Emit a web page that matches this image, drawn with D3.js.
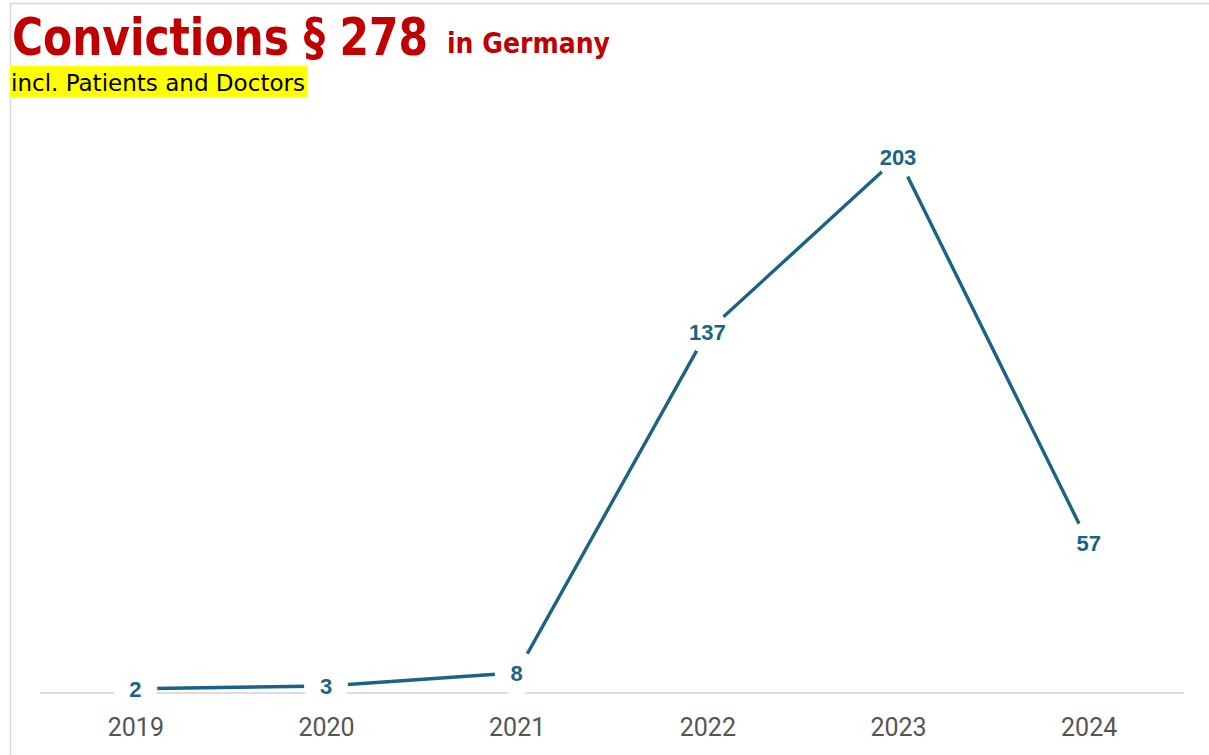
<!DOCTYPE html>
<html>
<head>
<meta charset="utf-8">
<script src="https://cdn.jsdelivr.net/npm/d3@7"></script>
<style>
  body { margin: 0; background: #fff; }
</style>
</head>
<body>
<script>
var years = ["2019", "2020", "2021", "2022", "2023", "2024"];
var convictions = [2, 3, 8, 137, 203, 57];

var width = 1209, height = 755;
var lineColor = "#1a6385";

var svg = d3.select("body").append("svg")
    .attr("width", width)
    .attr("height", height);

// frame
svg.append("path")
    .attr("d", "M10.5," + height + " V3.5 H" + width)
    .attr("fill", "none")
    .attr("stroke", "#d9d9d9")
    .attr("stroke-width", 1.5);

var x = d3.scalePoint()
    .domain(years)
    .range([40, 1184])
    .padding(0.5);

var y = d3.scaleLinear()
    .domain([0, 203])
    .range([694, 157]);

var data = years.map((d, i) => { return {year: d, value: convictions[i]}; });

// baseline
svg.append("line")
    .attr("x1", 40).attr("x2", 1184)
    .attr("y1", y(0) - 1).attr("y2", y(0) - 1)
    .attr("stroke", "#dcdcdc")
    .attr("stroke-width", 2);

var line = d3.line()
    .x((d) => x(d.year))
    .y((d) => y(d.value));

svg.append("path")
    .datum(data)
    .attr("d", line)
    .attr("fill", "none")
    .attr("stroke", lineColor)
    .attr("stroke-width", 3.4);

// white knockouts behind labels
svg.selectAll("circle.knock").data(data).enter()
    .append("circle")
        .attr("class", "knock")
        .attr("cx", (d) => x(d.year))
        .attr("cy", (d) => y(d.value))
        .attr("r", 22)
        .attr("fill", "#fff");

svg.selectAll("text.val").data(data).enter()
    .append("text")
        .attr("class", "val")
        .attr("x", (d) => x(d.year))
        .attr("y", (d) => y(d.value))
        .attr("dy", "0.36em")
        .attr("text-anchor", "middle")
        .attr("font-family", "Liberation Sans, Arial, sans-serif")
        .attr("font-weight", "bold")
        .attr("font-size", "22px")
        .attr("fill", lineColor)
        .text((d) => d.value);

// x axis labels
var xAxis = d3.axisBottom(x).tickSize(0).tickPadding(0);
var ax = svg.append("g")
    .attr("transform", "translate(0," + 718 + ")")
    .call(xAxis);
ax.select(".domain").remove();
ax.selectAll("text")
    .attr("font-family", "Roboto, sans-serif")
    .attr("font-size", "25px")
    .attr("fill", "#555");

// titles
svg.append("text")
    .attr("x", 12)
    .attr("y", 55)
    .attr("font-family", "DejaVu Sans Condensed, DejaVu Sans, sans-serif")
    .attr("font-weight", "bold")
    .attr("font-size", "51px")
    .attr("fill", "#c00000")
    .attr("textLength", 416)
    .attr("lengthAdjust", "spacingAndGlyphs")
    .text("Convictions § 278");

svg.append("text")
    .attr("x", 447)
    .attr("y", 53)
    .attr("font-family", "DejaVu Sans Condensed, DejaVu Sans, sans-serif")
    .attr("font-weight", "bold")
    .attr("font-size", "29px")
    .attr("fill", "#c00000")
    .attr("textLength", 163)
    .attr("lengthAdjust", "spacingAndGlyphs")
    .text("in Germany");

svg.append("rect")
    .attr("x", 10).attr("y", 66)
    .attr("width", 297).attr("height", 31)
    .attr("fill", "#ffff00");

svg.append("text")
    .attr("x", 11)
    .attr("y", 91)
    .attr("font-family", "DejaVu Sans Condensed, DejaVu Sans, sans-serif")
    .attr("font-size", "23px")
    .attr("fill", "#000")
    .attr("textLength", 294)
    .attr("lengthAdjust", "spacingAndGlyphs")
    .text("incl. Patients and Doctors");
</script>
</body>
</html>
